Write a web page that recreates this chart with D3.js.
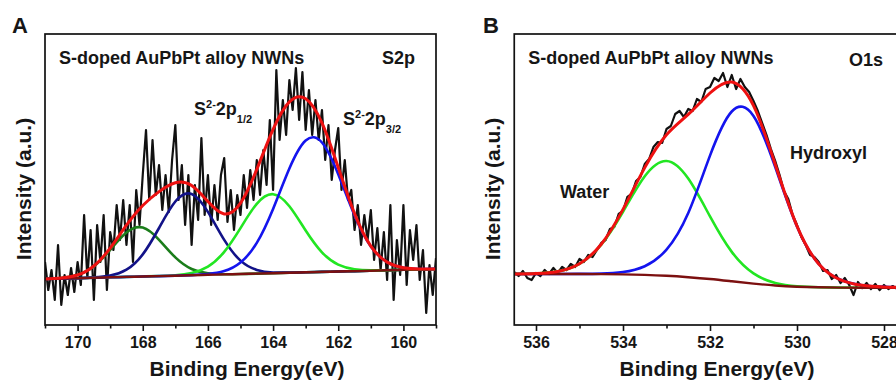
<!DOCTYPE html>
<html>
<head>
<meta charset="utf-8">
<script src="https://cdn.jsdelivr.net/npm/d3@7"></script>
<style>
  body { margin: 0; background: #fff; }
  svg { display: block; }
  text { font-family: "Liberation Sans", Arial, sans-serif; font-weight: bold; fill: #161616; }
</style>
</head>
<body>
<svg id="xps" width="896" height="381"></svg>
<script>
// ---- panel A : S 2p ----
var rawEnergyA = [
  171.0,170.9,170.8,170.7,170.6,170.5,170.4,170.3,170.2,170.1,
  170.0,169.9,169.8,169.7,169.6,169.5,169.4,169.3,169.2,169.1,
  169.0,168.9,168.8,168.7,168.6,168.5,168.4,168.3,168.2,168.1,
  168.0,167.9,167.8,167.7,167.6,167.5,167.4,167.3,167.2,167.1,
  167.0,166.9,166.8,166.7,166.6,166.5,166.4,166.3,166.2,166.1,
  166.0,165.9,165.8,165.7,165.6,165.5,165.4,165.3,165.2,165.1,
  165.0,164.9,164.8,164.7,164.6,164.5,164.4,164.3,164.2,164.1,
  164.0,163.9,163.8,163.7,163.6,163.5,163.4,163.3,163.2,163.1,
  163.0,162.9,162.8,162.7,162.6,162.5,162.4,162.3,162.2,162.1,
  162.0,161.9,161.8,161.7,161.6,161.5,161.4,161.3,161.2,161.1,
  161.0,160.9,160.8,160.7,160.6,160.5,160.4,160.3,160.2,160.1,
  160.0,159.9,159.8,159.7,159.6,159.5,159.4,159.3,159.2,159.1,
  159.0];
var rawCountsA = [
  63,35,55,25,80,20,50,30,57,33,
  63,40,110,47,95,25,100,63,110,35,
  93,75,120,85,125,80,120,63,135,100,
  150,195,125,185,130,160,115,150,113,165,
  200,125,160,100,150,80,140,105,187,110,
  150,100,140,105,150,167,103,135,95,130,
  110,150,117,155,125,165,130,175,140,205,
  135,255,185,225,190,245,215,257,205,253,
  195,235,190,225,185,215,165,200,145,175,
  197,135,165,125,135,95,120,80,110,85,
  115,65,97,55,93,45,120,25,85,50,
  120,40,95,65,100,45,75,12,60,30,
  67];
var fitEnergyA = [171,170.5,170,169.5,169,168.5,168,167.5,167,166.5,166,165.5,165,
                  164.5,164,163.5,163,162.5,162,161.5,161,160.5,160,159.5,159];
var backgroundA = [46,46.4,46.8,47.3,47.7,48.1,48.5,48.9,49.3,49.8,50.2,50.6,51,
                   51.4,51.8,52.3,52.7,53.1,53.5,53.9,54.3,54.8,55.2,55.6,56];
var peak168A  = [0.1,0.6,3.2,11.4,27.4,44.5,48.9,36.3,18.3,6.2,1.4,0.2,0,0,0,0,0,0,0,0,0,0,0,0,0];
var peak2p12A = [0,0,0,0.3,1.7,7.2,22.1,48.1,74.2,81.2,62.9,34.5,13.4,3.7,0.7,0.1,0,0,0,0,0,0,0,0,0];
var peak164A  = [0,0,0,0,0,0,0,0.1,0.5,2.2,8.2,22.5,45.9,69.8,79,66.5,41.8,19.6,6.8,1.8,0.3,0,0,0,0];
var peak2p32A = [0,0,0,0,0,0,0,0,0,0.1,0.8,3.3,11.5,30.7,64.2,104.2,131.8,129.4,97.2,55.7,24.3,8.1,2.1,0.4,0.1];
var ticksA = [170, 168, 166, 164, 162, 160];
var minorTicksA = [171, 169, 167, 165, 163, 161, 159];

// ---- panel B : O 1s ----
var rawEnergyB = [
  536.5,536.4,536.3,536.2,536.1,536.0,535.9,535.8,535.7,535.6,
  535.5,535.4,535.3,535.2,535.1,535.0,534.9,534.8,534.7,534.6,
  534.5,534.4,534.3,534.2,534.1,534.0,533.9,533.8,533.7,533.6,
  533.5,533.4,533.3,533.2,533.1,533.0,532.9,532.8,532.7,532.6,
  532.5,532.4,532.3,532.2,532.1,532.0,531.9,531.8,531.7,531.6,
  531.5,531.4,531.3,531.2,531.1,531.0,530.9,530.8,530.7,530.6,
  530.5,530.4,530.3,530.2,530.1,530.0,529.9,529.8,529.7,529.6,
  529.5,529.4,529.3,529.2,529.1,529.0,528.9,528.8,528.7,528.6,
  528.5,528.4,528.3,528.2,528.1,528.0,527.9,527.8,527.7,527.6,
  527.5];
var rawCountsB = [
  53,49,54,47,45,52,49,55,51,57,
  52,58,55,61,58,66,63,70,68,75,
  82,85,96,98,111,114,128,131,144,148,
  161,166,178,183,182,196,199,211,214,208,
  216,214,226,223,236,238,247,244,252,238,
  250,236,246,238,233,224,214,202,190,176,
  164,150,134,126,110,100,88,80,70,68,
  63,54,55,46,50,42,47,40,30,43,
  37,42,36,41,35,40,36,39,36,38,
  37];
var fitEnergyB = [536.5,536,535.5,535,534.5,534,533.5,533,532.5,532,531.5,531,
                  530.5,530,529.5,529,528.5,528,527.5];
var backgroundB = [51,51,51,51,50.9,50.6,50.1,49.2,47.8,46,43.7,41.4,39.5,38.3,37.7,37.4,37.3,37.3,37.3];
var waterB    = [0.1,0.5,2.6,10.2,29.4,62.6,98.6,114.8,98.6,62.6,29.4,10.2,2.6,0.5,0.1,0,0,0,0];
var hydroxylB = [0,0,0,0.1,0.5,2.4,8.7,26.2,64.2,123.4,169.8,167.7,118.4,60.1,23.3,7.8,2.4,0.8,0.2];
var ticksB = [536, 534, 532, 530, 528];
var minorTicksB = [535, 533, 531, 529];

var svg = d3.select("#xps");

function drawPanel(p) {
    var g = svg.append("g");
    var xScale = d3.scaleLinear().domain(p.xDomain).range([p.left, p.right]);
    var yScale = d3.scaleLinear().domain([0, 291]).range([p.bottom, p.top]);

    g.append("clipPath")
        .attr("id", "clip-" + p.id)
        .append("rect")
        .attr("x", p.left)
        .attr("y", p.top)
        .attr("width", p.right - p.left)
        .attr("height", p.bottom - p.top);
    var plot = g.append("g").attr("clip-path", "url(#clip-" + p.id + ")");

    var rawLine = d3.line()
        .x(function(d) { return xScale(d[0]); })
        .y(function(d) { return yScale(d[1]); });
    var fitLine = d3.line()
        .x(function(d) { return xScale(d[0]); })
        .y(function(d) { return yScale(d[1]); })
        .curve(d3.curveNatural);

    // measured spectrum
    plot.append("path")
        .datum(d3.zip(p.rawEnergy, p.rawCounts))
        .attr("d", rawLine)
        .attr("fill", "none")
        .attr("stroke", "#111")
        .attr("stroke-width", 2.2)
        .attr("stroke-linejoin", "round");

    // fitted components sit on the background
    p.peaks.forEach(function(pk) {
        plot.append("path")
            .datum(p.fitEnergy.map(function(e, i) { return [e, p.background[i] + pk.values[i]]; }))
            .attr("d", fitLine)
            .attr("fill", "none")
            .attr("stroke", pk.color)
            .attr("stroke-width", 2.6);
    });

    plot.append("path")
        .datum(d3.zip(p.fitEnergy, p.background))
        .attr("d", fitLine)
        .attr("fill", "none")
        .attr("stroke", "#7c1010")
        .attr("stroke-width", 2.4);

    // envelope = background + sum of components
    plot.append("path")
        .datum(p.fitEnergy.map(function(e, i) {
            return [e, p.background[i] + d3.sum(p.peaks, function(pk) { return pk.values[i]; })];
        }))
        .attr("d", fitLine)
        .attr("fill", "none")
        .attr("stroke", "#ee1111")
        .attr("stroke-width", 3);

    g.append("rect")
        .attr("x", p.left)
        .attr("y", p.top)
        .attr("width", p.right - p.left)
        .attr("height", p.bottom - p.top)
        .attr("fill", "none")
        .attr("stroke", "#111")
        .attr("stroke-width", 1.7);

    var major = g.append("g")
        .attr("transform", "translate(0," + p.bottom + ")")
        .call(d3.axisBottom(xScale).tickValues(p.ticks).tickSize(6).tickPadding(6).tickFormat(d3.format("d")))
        .attr("font-size", 16);
    major.select(".domain").remove();
    major.selectAll("line").attr("stroke", "#111").attr("stroke-width", 1.6);

    var minor = g.append("g")
        .attr("transform", "translate(0," + p.bottom + ")")
        .call(d3.axisBottom(xScale).tickValues(p.minorTicks).tickSize(3.5).tickFormat(""));
    minor.select(".domain").remove();
    minor.selectAll("line").attr("stroke", "#111").attr("stroke-width", 1.6);

    g.append("text")
        .attr("x", p.xTitleX)
        .attr("y", 376)
        .attr("text-anchor", "middle")
        .attr("font-size", 21)
        .text("Binding Energy(eV)");

    g.append("text")
        .attr("transform", "translate(" + p.yTitleX + ",189) rotate(-90)")
        .attr("text-anchor", "middle")
        .attr("font-size", 21)
        .text("Intensity (a.u.)");

    g.append("text")
        .attr("x", p.letterX)
        .attr("y", 33)
        .attr("font-size", 22)
        .text(p.letter);

    g.append("text")
        .attr("x", p.left + 14)
        .attr("y", 64)
        .attr("font-size", 18)
        .text("S-doped AuPbPt alloy NWNs");

    g.append("text")
        .attr("x", p.coreX)
        .attr("y", p.coreY)
        .attr("text-anchor", "end")
        .attr("font-size", 18)
        .text(p.core);

    p.labels.forEach(function(lb) {
        var t = g.append("text")
            .attr("x", lb.x)
            .attr("y", lb.y)
            .attr("font-size", 18);
        if (!lb.sub) { t.text(lb.text); return; }
        t.append("tspan").text("S");
        t.append("tspan").attr("font-size", 11).attr("dy", -7).text("2-");
        t.append("tspan").attr("font-size", 18).attr("dy", 7).text("2p");
        t.append("tspan").attr("font-size", 11).attr("dy", 8).text(lb.sub);
    });
}

drawPanel({
    id: "a", letter: "A", letterX: 12,
    left: 45, right: 436, top: 34, bottom: 325,
    xDomain: [171, 159],
    rawEnergy: rawEnergyA, rawCounts: rawCountsA,
    fitEnergy: fitEnergyA, background: backgroundA,
    peaks: [
        {values: peak168A, color: "#1b7d1b"},
        {values: peak2p12A, color: "#121288"},
        {values: peak164A, color: "#22e622"},
        {values: peak2p32A, color: "#1414ee"}
    ],
    ticks: ticksA, minorTicks: minorTicksA,
    xTitleX: 247, yTitleX: 31,
    core: "S2p", coreX: 415, coreY: 64,
    labels: [
        {x: 194, y: 115, sub: "1/2"},
        {x: 343, y: 125, sub: "3/2"}
    ]
});

drawPanel({
    id: "b", letter: "B", letterX: 483,
    left: 514.25, right: 905.75, top: 34, bottom: 325,
    xDomain: [536.5, 527.5],
    rawEnergy: rawEnergyB, rawCounts: rawCountsB,
    fitEnergy: fitEnergyB, background: backgroundB,
    peaks: [
        {values: waterB, color: "#22e622"},
        {values: hydroxylB, color: "#1414ee"}
    ],
    ticks: ticksB, minorTicks: minorTicksB,
    xTitleX: 717, yTitleX: 500,
    core: "O1s", coreX: 883, coreY: 66,
    labels: [
        {x: 560, y: 198, text: "Water"},
        {x: 790, y: 159, text: "Hydroxyl"}
    ]
});
</script>
</body>
</html>
